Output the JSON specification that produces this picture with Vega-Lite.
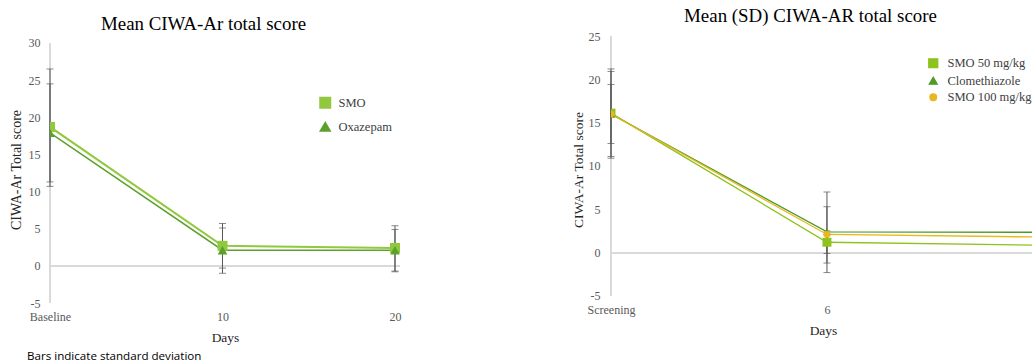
{
  "$schema": "https://vega.github.io/schema/vega-lite/v6.json",
  "background": "white",
  "padding": {"left": 9, "top": 7, "right": 0, "bottom": 0},
  "config": {
    "font": "Liberation Serif",
    "view": {"stroke": null},
    "axis": {
      "labelFont": "Liberation Serif",
      "labelFontSize": 12,
      "labelColor": "#595959",
      "labelOverlap": false,
      "titleFont": "Liberation Serif",
      "titleFontWeight": "normal",
      "titleColor": "#262626",
      "grid": false,
      "ticks": false,
      "tickSize": 0,
      "domain": false
    },
    "legend": {"labelFont": "Liberation Serif"},
    "title": {"font": "Liberation Serif", "fontWeight": "normal", "fontSize": 18.9, "color": "#000000"}
  },
  "title": {
    "text": "Bars indicate standard deviation",
    "orient": "bottom",
    "anchor": "start",
    "font": "Open Sans",
    "fontSize": 11.6,
    "fontWeight": "normal",
    "color": "#000000",
    "dx": 18,
    "offset": 7
  },
  "spacing": 170,
  "resolve": {"scale": {"color": "independent", "shape": "independent", "size": "independent", "strokeWidth": "independent"}, "legend": {"color": "independent"}},
  "hconcat": [
    {
      "width": 350,
      "height": 267,
      "title": {"text": "Mean CIWA-Ar total score", "dx": -21.5, "offset": 2},
      "data": {
        "values": [
          {"series": "SMO", "day": 0, "mean": 18.7, "lo": 10.7, "hi": 26.5},
          {"series": "SMO", "day": 10, "mean": 2.7, "lo": -0.3, "hi": 5.7},
          {"series": "SMO", "day": 20, "mean": 2.4, "lo": -0.8, "hi": 5.4},
          {"series": "Oxazepam", "day": 0, "mean": 17.9, "lo": 11.3, "hi": 24.5},
          {"series": "Oxazepam", "day": 10, "mean": 2.1, "lo": -1.0, "hi": 5.1},
          {"series": "Oxazepam", "day": 20, "mean": 2.1, "lo": -0.7, "hi": 4.9}
        ]
      },
      "layer": [
        {
          "mark": {"type": "rule", "color": "#d9d9d9", "strokeWidth": 1.5},
          "encoding": {"y": {"datum": 0, "type": "quantitative", "title": "CIWA-Ar Total score"}}
        },
        {
          "mark": {"type": "rule", "color": "#d9d9d9", "strokeWidth": 1},
          "encoding": {
            "x": {"datum": 0, "type": "quantitative"},
            "y": {"datum": -5, "type": "quantitative", "title": "CIWA-Ar Total score"},
            "y2": {"datum": 30}
          }
        },
        {
          "mark": {"type": "errorbar", "ticks": true, "size": 7, "thickness": 1, "color": "#595959"},
          "encoding": {
            "x": {
              "field": "day", "type": "quantitative",
              "scale": {"domain": [0, 20.29], "nice": false, "zero": false},
              "axis": {"values": [0, 10, 20], "labelExpr": "datum.value == 0 ? 'Baseline' : datum.label", "labelFlush": false, "labelFont": "Liberation Serif", "labelPadding": 8, "titlePadding": 8, "titleFontSize": 13.5, "title": "Days"},
              "title": "Days"
            },
            "y": {
              "field": "lo", "type": "quantitative",
              "scale": {"domain": [-5, 30.94], "nice": false, "zero": false},
              "axis": {"values": [-5, 0, 5, 10, 15, 20, 25, 30], "tickCount": 12, "labelExpr": "datum.value < 0 ? '-' + abs(datum.value) : '' + datum.value", "labelOverlap": false, "labelFlush": false, "labelFont": "Liberation Serif", "labelPadding": 10, "titlePadding": 5, "titleFontSize": 14, "title": "CIWA-Ar Total score"},
              "title": "CIWA-Ar Total score"
            },
            "y2": {"field": "hi"}
          }
        },
        {
          "mark": {"type": "line", "clip": true},
          "encoding": {
            "x": {"field": "day", "type": "quantitative", "title": "Days"},
            "y": {"field": "mean", "type": "quantitative", "title": "CIWA-Ar Total score"},
            "color": {
              "field": "series", "type": "nominal",
              "scale": {"domain": ["SMO", "Oxazepam"], "range": ["#92C83E", "#5BA12B"]},
              "legend": {
                "orient": "none", "legendX": 269, "legendY": 60.5, "title": null,
                "labelFont": "Liberation Serif", "labelFontSize": 12.5, "labelColor": "#404040",
                "rowPadding": 6, "labelOffset": 7
              }
            },
            "strokeWidth": {"field": "series", "type": "nominal", "scale": {"domain": ["SMO", "Oxazepam"], "range": [2, 1.6]}, "legend": null}
          }
        },
        {
          "mark": {"type": "point", "filled": true, "opacity": 1, "clip": true},
          "encoding": {
            "x": {"field": "day", "type": "quantitative", "title": "Days"},
            "y": {"field": "mean", "type": "quantitative", "title": "CIWA-Ar Total score"},
            "color": {"field": "series", "type": "nominal"},
            "shape": {"field": "series", "type": "nominal", "scale": {"domain": ["SMO", "Oxazepam"], "range": ["square", "triangle-up"]}, "legend": null},
            "size": {"field": "series", "type": "nominal", "scale": {"domain": ["SMO", "Oxazepam"], "range": [100, 95]}, "legend": null}
          }
        }
      ]
    },
    {
      "width": 424,
      "height": 267,
      "title": {"text": "Mean (SD) CIWA-AR total score", "dx": -12.5, "offset": 4},
      "data": {
        "values": [
          {"series": "SMO 50 mg/kg", "day": 0, "mean": 16.1, "lo": 12.6, "hi": 19.4},
          {"series": "SMO 50 mg/kg", "day": 6, "mean": 1.2, "lo": -0.1, "hi": 2.5},
          {"series": "SMO 50 mg/kg", "day": 12, "mean": 0.85, "lo": null, "hi": null},
          {"series": "Clomethiazole", "day": 0, "mean": 16.0, "lo": 10.9, "hi": 21.2},
          {"series": "Clomethiazole", "day": 6, "mean": 2.4, "lo": -2.3, "hi": 7.0},
          {"series": "Clomethiazole", "day": 12, "mean": 2.35, "lo": null, "hi": null},
          {"series": "SMO 100 mg/kg", "day": 0, "mean": 16.0, "lo": 11.1, "hi": 20.9},
          {"series": "SMO 100 mg/kg", "day": 6, "mean": 2.1, "lo": -1.2, "hi": 5.3},
          {"series": "SMO 100 mg/kg", "day": 12, "mean": 1.8, "lo": null, "hi": null}
        ]
      },
      "layer": [
        {
          "mark": {"type": "rule", "color": "#d9d9d9", "strokeWidth": 1.5},
          "encoding": {"y": {"datum": 0, "type": "quantitative", "title": "CIWA-Ar Total score"}}
        },
        {
          "mark": {"type": "rule", "color": "#d9d9d9", "strokeWidth": 1},
          "encoding": {
            "x": {"datum": 0, "type": "quantitative"},
            "y": {"datum": -5, "type": "quantitative", "title": "CIWA-Ar Total score"},
            "y2": {"datum": 25}
          }
        },
        {
          "transform": [{"filter": "isValid(datum.lo)"}],
          "mark": {"type": "errorbar", "ticks": true, "size": 7, "thickness": 1, "color": "#595959"},
          "encoding": {
            "x": {
              "field": "day", "type": "quantitative",
              "scale": {"domain": [0, 11.78], "nice": false, "zero": false},
              "axis": {"values": [0, 6], "labelExpr": "datum.value == 0 ? 'Screening' : datum.label", "labelFlush": false, "labelFont": "Liberation Serif", "labelPadding": 8, "titlePadding": 8, "titleFontSize": 13.5, "offset": -7, "title": "Days"},
              "title": "Days"
            },
            "y": {
              "field": "lo", "type": "quantitative",
              "scale": {"domain": [-5.81, 25], "nice": false, "zero": false},
              "axis": {"values": [-5, 0, 5, 10, 15, 20, 25], "tickCount": 12, "labelExpr": "datum.value < 0 ? '-' + abs(datum.value) : '' + datum.value", "labelOverlap": false, "labelFlush": false, "labelFont": "Liberation Serif", "labelPadding": 11, "titlePadding": 3, "titleFontSize": 13.5, "title": "CIWA-Ar Total score"},
              "title": "CIWA-Ar Total score"
            },
            "y2": {"field": "hi"}
          }
        },
        {
          "mark": {"type": "line", "clip": true},
          "encoding": {
            "x": {"field": "day", "type": "quantitative", "title": "Days"},
            "y": {"field": "mean", "type": "quantitative", "title": "CIWA-Ar Total score"},
            "color": {
              "field": "series", "type": "nominal",
              "scale": {"domain": ["SMO 50 mg/kg", "Clomethiazole", "SMO 100 mg/kg"], "range": ["#8DC21F", "#4F9A2C", "#EAB71E"]},
              "legend": {
                "orient": "none", "legendX": 316, "legendY": 21, "title": null,
                "labelFont": "Liberation Serif", "labelFontSize": 12.5, "labelColor": "#404040",
                "rowPadding": 3.5, "labelOffset": 8
              }
            },
            "strokeWidth": {"field": "series", "type": "nominal", "scale": {"domain": ["SMO 50 mg/kg", "Clomethiazole", "SMO 100 mg/kg"], "range": [1.3, 1.3, 3.5]}, "legend": null}
          }
        },
        {
          "mark": {"type": "point", "filled": true, "opacity": 1, "clip": true},
          "encoding": {
            "x": {"field": "day", "type": "quantitative", "title": "Days"},
            "y": {"field": "mean", "type": "quantitative", "title": "CIWA-Ar Total score"},
            "color": {"field": "series", "type": "nominal"},
            "shape": {"field": "series", "type": "nominal", "scale": {"domain": ["SMO 50 mg/kg", "Clomethiazole", "SMO 100 mg/kg"], "range": ["square", "triangle-up", "circle"]}, "legend": null},
            "size": {"field": "series", "type": "nominal", "scale": {"domain": ["SMO 50 mg/kg", "Clomethiazole", "SMO 100 mg/kg"], "range": [80, 45, 70]}, "legend": null}
          }
        }
      ]
    }
  ]
}
